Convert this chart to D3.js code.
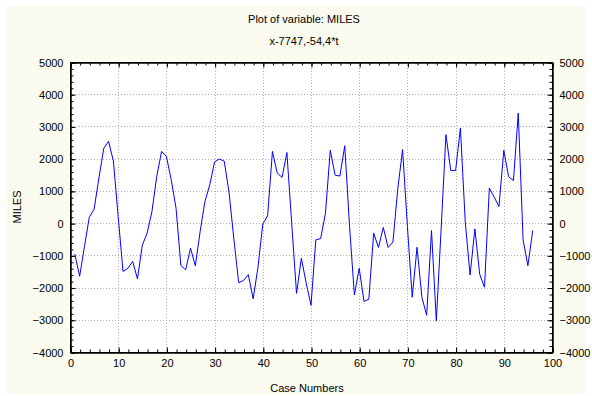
<!DOCTYPE html>
<html>
<head>
<meta charset="utf-8">
<script src="https://cdn.jsdelivr.net/npm/d3@7"></script>
<style>
  body { margin: 0; background: #ffffff; }
  text { font-family: "Liberation Sans", Arial, sans-serif; font-size: 11px; fill: #000; }
  .grid line { stroke: #b0b0b0; stroke-dasharray: 1,2; }
</style>
</head>
<body>
<div id="chart"></div>
<script>
// case numbers 1..96
const miles = [
  -960, -1650, -730, 180, 430, 1400, 2320, 2540, 1930, 200,
  -1500, -1400, -1190, -1730, -690, -310, 360, 1450, 2225, 2070,
  1345, 465, -1315, -1450, -776, -1325, -260, 673, 1190, 1900,
  1990, 1920, 950, -500, -1850, -1780, -1600, -2350, -1370, -30,
  230, 2225, 1550, 1420, 2190, -20, -2180, -1090, -1860, -2550,
  -520, -480, 300, 2260, 1490, 1460, 2400, -100, -2230, -1400,
  -2430, -2360, -310, -755, -135, -755, -590, 1060, 2280, -100,
  -2300, -750, -2300, -2860, -230, -3040, -180, 2743, 1630, 1630,
  2950, 50, -1610, -180, -1590, -1990, 1087, 807, 518, 2257,
  1440, 1320, 3416, -520, -1320, -228
];
const xTicks = [0, 10, 20, 30, 40, 50, 60, 70, 80, 90, 100];
const yTicks = [-4000, -3000, -2000, -1000, 0, 1000, 2000, 3000, 4000, 5000];

const width = 592, height = 396;
const plotLeft = 70, plotRight = 552, plotTop = 62, plotBottom = 352;

const svg = d3.select('#chart').append('svg')
  .attr('width', width)
  .attr('height', height);

// cream panel
svg.append('rect')
  .attr('x', 6).attr('y', 6)
  .attr('width', 580).attr('height', 388)
  .attr('fill', '#fbfbef');

const x = d3.scaleLinear().domain([0, 100]).range([plotLeft, plotRight]);
const y = d3.scaleLinear().domain([-4000, 5000]).range([plotBottom, plotTop]);

svg.append('rect')
  .attr('x', plotLeft).attr('y', plotTop)
  .attr('width', plotRight - plotLeft).attr('height', plotBottom - plotTop)
  .attr('fill', '#ffffff');

// dotted grid
const grid = svg.append('g').attr('class', 'grid');
grid.selectAll('.gx').data(xTicks.slice(1, -1)).enter().append('line')
  .attr('x1', d => Math.round(x(d)) + 0.5).attr('x2', d => Math.round(x(d)) + 0.5)
  .attr('y1', plotTop).attr('y2', plotBottom);
grid.selectAll('.gy').data(yTicks.slice(1, -1)).enter().append('line')
  .attr('y1', d => Math.round(y(d)) + 0.5).attr('y2', d => Math.round(y(d)) + 0.5)
  .attr('x1', plotLeft).attr('x2', plotRight);

// ticks pointing inward, minor + major, on all four sides
const minorX = d3.range(0, 101, 2);
const minorY = d3.range(-4000, 5001, 200);

function axes(g, scale, gen, major, minor, labels) {
  g.append('g').call(gen(scale).tickValues(minor).tickSize(-3).tickFormat(''));
  g.append('g').call(gen(scale).tickValues(major).tickSize(-5).tickPadding(labels ? 7 : 0)
    .tickFormat(labels ? d3.format('d') : ''));
}

const ax = svg.append('g').attr('transform', `translate(0.5,${plotBottom + 0.5})`);
axes(ax, x, d3.axisBottom, xTicks, minorX, true);
const axTop = svg.append('g').attr('transform', `translate(0.5,${plotTop + 0.5})`);
axes(axTop, x, d3.axisTop, xTicks, minorX, false);
const ay = svg.append('g').attr('transform', `translate(${plotLeft + 0.5},0.5)`);
axes(ay, y, d3.axisLeft, yTicks, minorY, true);
const ayR = svg.append('g').attr('transform', `translate(${plotRight + 0.5},0.5)`);
axes(ayR, y, d3.axisRight, yTicks, minorY, true);

svg.selectAll('.domain').attr('stroke', '#000');
svg.selectAll('.tick line').attr('stroke', '#000');
svg.selectAll('.tick text').style('font-size', '11px').attr('fill', '#000');

// frame
svg.append('rect')
  .attr('x', plotLeft + 0.5).attr('y', plotTop + 0.5)
  .attr('width', plotRight - plotLeft).attr('height', plotBottom - plotTop)
  .attr('fill', 'none').attr('stroke', '#000');

// series line
const line = d3.line()
  .x((d, i) => x(i + 1))
  .y(d => y(d));

svg.append('path')
  .datum(miles)
  .attr('d', line)
  .attr('fill', 'none')
  .attr('stroke', '#0000ff')
  .attr('stroke-width', 1);

// titles
svg.append('text').attr('x', 304).attr('y', 23).attr('text-anchor', 'middle')
  .text('Plot of variable: MILES');
svg.append('text').attr('x', 304).attr('y', 45).attr('text-anchor', 'middle')
  .text('x-7747,-54,4*t');
svg.append('text').attr('x', 307).attr('y', 392).attr('text-anchor', 'middle')
  .text('Case Numbers');
svg.append('text')
  .attr('transform', 'translate(21,207) rotate(-90)')
  .attr('text-anchor', 'middle')
  .text('MILES');
</script>
</body>
</html>
